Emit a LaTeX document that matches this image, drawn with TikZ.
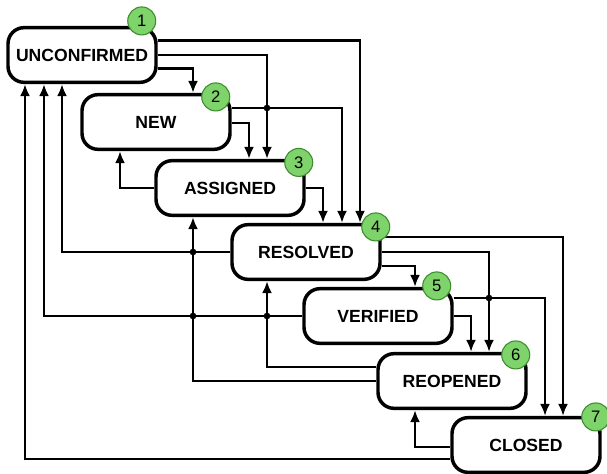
\documentclass[tikz,border=0pt]{standalone}
\usepackage{fontspec}
\setmainfont{Liberation Sans}
\usetikzlibrary{arrows.meta,calc}
\definecolor{badgefill}{HTML}{7ED36A}
\definecolor{badgeline}{HTML}{3C8C2E}
\tikzset{
    state/.style={draw=black, fill=white, line width=2.6pt, rounded corners=12pt,
                  minimum width=111pt, minimum height=41pt, inner sep=0pt,
                  font=\fontsize{13.2}{15}\selectfont\bfseries},
    badge/.style={circle, draw=badgeline, fill=badgefill, line width=0.8pt,
                  minimum size=21pt, inner sep=0pt, font=\fontsize{12.5}{15}\selectfont},
    link/.style={line width=2.2pt, -{Latex[length=9pt,width=7.5pt]}},
    hop/.style={circle, fill=black, inner sep=0pt, minimum size=5pt}
}

\begin{document}
\begin{tikzpicture}
  [
    x = 0.75pt,
    y = -0.75pt,
  ]
  \useasboundingbox (0,0) rectangle (607,474);

  % states
  \node [state] (unc) at (82,55)  {UNCONFIRMED};
  \node [state] (new) at (156,122) {NEW};
  \node [state] (asg) at (230,188) {ASSIGNED};
  \node [state] (res) at (306,252) {RESOLVED};
  \node [state] (ver) at (378,316) {VERIFIED};
  \node [state] (reo) at (452,381) {REOPENED};
  \node [state] (clo) at (526,445) {CLOSED};

  % points where the links leave
  \coordinate (uncA) at ($(unc.east)+(0,-14.5)$);
  \coordinate (uncB) at (unc.east);
  \coordinate (uncC) at ($(unc.east)+(0,13.5)$);
  \coordinate (newA) at ($(new.east)+(0,-14)$);
  \coordinate (newB) at ($(new.east)+(0,1)$);
  \coordinate (resA) at ($(res.east)+(0,-15)$);
  \coordinate (resB) at (res.east);
  \coordinate (resC) at ($(res.east)+(0,14)$);
  \coordinate (verA) at ($(ver.east)+(0,-18)$);
  \coordinate (verB) at (ver.east);
  \coordinate (reoA) at ($(reo.west)+(0,-14)$);
  \coordinate (cloA) at ($(clo.west)+(0,2)$);
  \coordinate (cloB) at ($(clo.west)+(0,14)$);

  % points where they arrive
  \coordinate (toAsgA) at ($(asg.north)+(37,0)$);
  \coordinate (toAsgB) at ($(asg.south)+(-37,0)$);
  \coordinate (toResB) at ($(res.south)+(-39,0)$);
  \coordinate (toReoA) at ($(reo.north)+(37,0)$);

  % forward links
  \draw [link] (uncA) -| ($(res.north)+(54,0)$);
  \draw [link] (uncB) -| (toAsgA);
  \draw [link] (uncC) -| ($(new.north)+(37,0)$);
  \draw [link] (newA) -| ($(res.north)+(36,0)$);
  \draw [link] (newB) -| ($(asg.north)+(19,0)$);
  \draw [link] (asg.east) -| ($(res.north)+(17,0)$);
  \draw [link] (resA) -| ($(clo.north)+(37,0)$);
  \draw [link] (resB) -| (toReoA);
  \draw [link] (resC) -| ($(ver.north)+(37,0)$);
  \draw [link] (verA) -| ($(clo.north)+(19,0)$);
  \draw [link] (verB) -| ($(reo.north)+(19,0)$);

  % links back
  \draw [link] (asg.west) -| ($(new.south)+(-36,0)$);
  \draw [link] (res.west) -| ($(unc.south)+(-20,0)$);
  \draw [link] (ver.west) -| ($(unc.south)+(-38,0)$);
  \draw [link] (reoA) -| (toResB);
  \draw [link] (reo.west) -| (toAsgB);
  \draw [link] (cloA) -| ($(reo.south)+(-37,0)$);
  \draw [link] (cloB) -| ($(unc.south)+(-57,0)$);

  % crossings
  \node [hop] (x1) at (toAsgA |- newA) {};
  \node [hop] (x2) at (toAsgB |- res.west) {};
  \node [hop] (x3) at (toAsgB |- ver.west) {};
  \node [hop] (x4) at (toResB |- ver.west) {};
  \node [hop] (x5) at (toReoA |- verA) {};

  % numbers
  \node [badge] (b1) at ($(unc.north east)+(-16,-5)$) {1};
  \node [badge] (b2) at ($(new.north east)+(-16,4)$) {2};
  \node [badge] (b3) at ($(asg.north east)+(-7,3.5)$) {3};
  \node [badge] (b4) at ($(res.north east)+(-6,4)$) {4};
  \node [badge] (b5) at ($(ver.north east)+(-17,-1)$) {5};
  \node [badge] (b6) at ($(reo.north east)+(-12,3)$) {6};
  \node [badge] (b7) at ($(clo.north east)+(-6,1)$) {7};
\end{tikzpicture}
\end{document}
